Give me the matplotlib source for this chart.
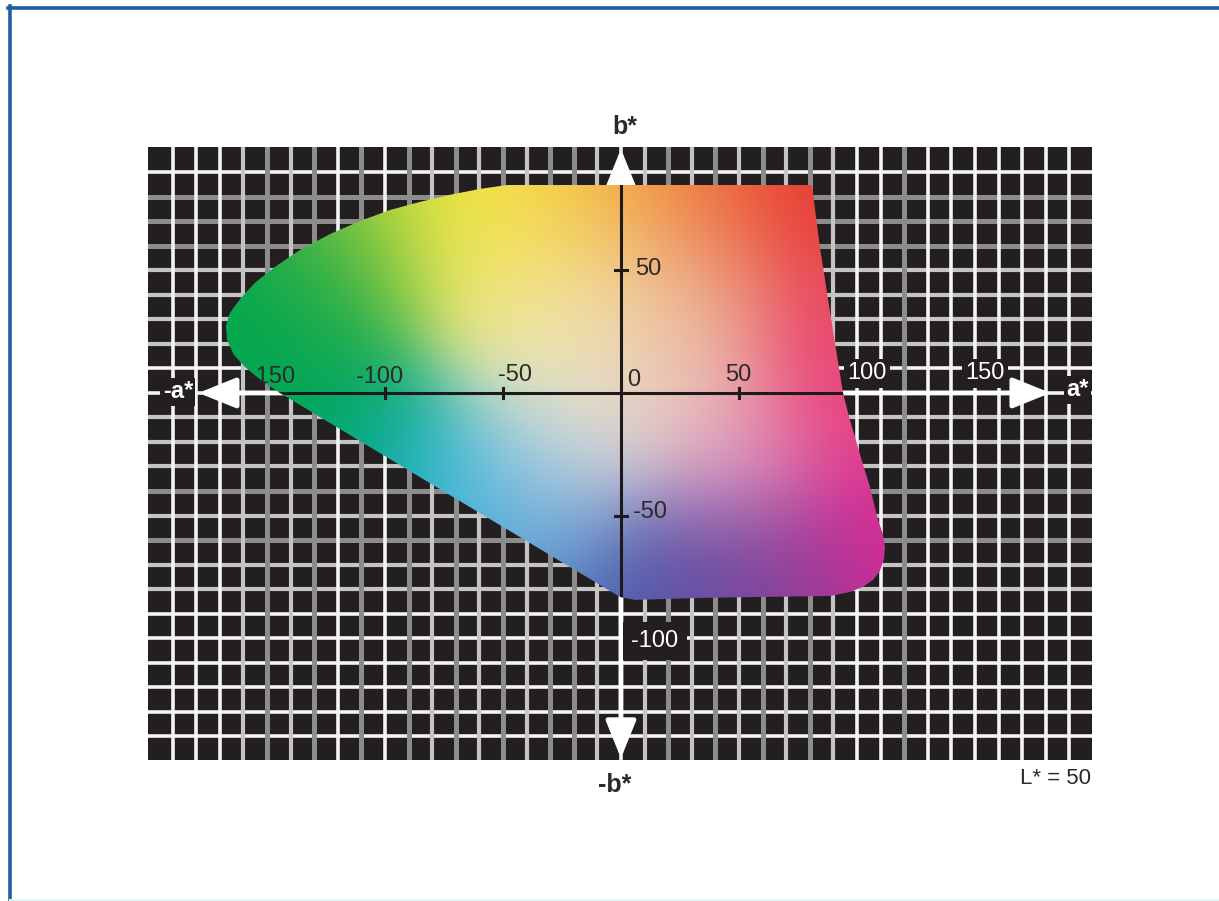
import numpy as np
import matplotlib
matplotlib.use('Agg')
import matplotlib.pyplot as plt
from matplotlib.patches import Polygon
from matplotlib.lines import Line2D

plt.rcParams['font.family'] = ['Liberation Sans Narrow', 'Liberation Sans', 'DejaVu Sans']

# ---- data: gamut boundary of the a*b* plane at L* = 50 ----
gamut_a = [80.9, 84.3, 89.8, 94.1, 97.0, 102.0, 105.5, 108.9, 111.0, 111.9, 111.4, 109.7,
           106.8, 102.5, 97.0, 88.6, 33.5, 5.9, -0.4, -79.7, -144.5, -152.1, -158.9,
           -164.0, -166.9, -167.4, -165.7, -161.4, -155.1, -146.6, -136.0, -123.3,
           -110.6, -97.9, -85.2, -72.5, -59.7, -48.3]
gamut_b = [84.8, 59.5, 25.7, 0.0, -11.0, -27.3, -38.3, -51.8, -57.5, -63.2, -68.1, -72.6,
           -76.3, -79.1, -81.2, -82.8, -83.6, -84.4, -83.2, -37.5, 0.0, 4.9, 10.2,
           15.5, 21.6, 27.3, 32.6, 38.3, 44.9, 51.4, 58.3, 64.8,
           70.1, 74.6, 77.9, 80.8, 83.2, 84.8]

a_tick_marks = [-100, -50, 50]
b_tick_marks = [50, -50]
a_labels = ['-150', '-100', '-50', '0', '50', '100', '150']
b_labels = ['50', '-50', '-100']

# colour anchors for the gamut fill (a, b, R, G, B)
anchor_a = [-10, -50, -25, 0, 40, 80, 90, 96, 110, 70, 35, 5, -40, -75, -110, -150, -160,
            -115, -85, -50, -25, 35, 45, -35, 20, -5, -130]
anchor_b = [-8, 84, 82, 85, 82, 80, 30, 0, -62, -80, -80, -80, -60, -42, -20, 8, 30,
            64, 76, 50, 30, 40, -25, -30, 15, 35, 45]
anchor_rgb = [(230, 228, 230), (248, 236, 50), (246, 205, 65), (241, 150, 62), (238, 108, 58),
              (230, 45, 45), (234, 72, 95), (233, 62, 135), (222, 40, 150), (135, 60, 150),
              (105, 72, 160), (68, 92, 172), (80, 155, 215), (40, 185, 230), (0, 168, 118),
              (0, 165, 80), (0, 168, 78), (110, 190, 60), (236, 232, 55), (242, 232, 130),
              (242, 236, 170), (236, 158, 128), (230, 160, 200), (190, 214, 224),
              (236, 200, 180), (240, 220, 170), (20, 168, 75)]

# ---- grid line colours ----
W, L, G = '#f4f4f4', '#c4c4c4', '#8c8c8c'
v_vals = list(range(-190, 200, 10))
v_cols = [W, W, W, L, G, L, G, W, G, W, G, L, G, L, G, L, G, G, L, W,
          L, G, L, G, L, G, L, G, L, W, W, G, W, W, W, W, W, W, W]
h_vals = list(range(90, -150, -10))
h_cols = [W, G, G, G, L, L, L, L, W, W, L, L, L, G, L, G, L, L, W, W, W, W, W, W]
lw_map = {W: 2.6, L: 3.0, G: 3.6}

fig = plt.figure(figsize=(12.19, 9.01), dpi=100)
fig.patch.set_facecolor('white')
ax = fig.add_axes([148 / 1219, 141 / 901, 944 / 1219, 613 / 901])
ax.set_facecolor('#231f20')
ax.set_xlim(-200.4, 199.6)
ax.set_ylim(-149.7, 100.3)
ax.set_xticks([])
ax.set_yticks([])
for s in ax.spines.values():
    s.set_visible(False)

for v, c in zip(h_vals, h_cols):
    ax.axhline(v, color=c, lw=lw_map[c], zorder=1)
for v, c in zip(v_vals, v_cols):
    ax.axvline(v, color=c, lw=lw_map[c], zorder=1)

# white axes with arrows
akw = dict(arrowstyle='-|>,head_length=0.42,head_width=0.17', color='white', lw=3.5,
           mutation_scale=55, shrinkA=0, shrinkB=0)
ax.annotate('', xy=(-179, 0), xytext=(0, 0), arrowprops=akw, zorder=2, annotation_clip=False)
ax.annotate('', xy=(182, 0), xytext=(0, 0), arrowprops=akw, zorder=2, annotation_clip=False)
ax.annotate('', xy=(0, 99.5), xytext=(0, 0), arrowprops=akw, zorder=2, annotation_clip=False)
ax.annotate('', xy=(0, -149), xytext=(0, 0), arrowprops=akw, zorder=2, annotation_clip=False)

# gamut fill
poly = Polygon(np.column_stack([gamut_a, gamut_b]), closed=True, facecolor='none',
               edgecolor='none', transform=ax.transData)
ax.add_patch(poly)
ga = np.linspace(-170, 115, 570)
gb = np.linspace(-87, 88, 350)
AA, BB = np.meshgrid(ga, gb)
an_a = np.array(anchor_a, float)
an_b = np.array(anchor_b, float)
cols = np.array(anchor_rgb, float) / 255.0
d2 = (AA[..., None] - an_a) ** 2 + (BB[..., None] - an_b) ** 2
wts = np.exp(-d2 / (2 * 27.0 ** 2)) + 1e-12
wts /= wts.sum(axis=-1, keepdims=True)
img = np.clip(np.einsum('ijk,kl->ijl', wts, cols), 0, 1)
im = ax.imshow(img, extent=(ga[0], ga[-1], gb[0], gb[-1]), origin='lower',
               interpolation='bilinear', aspect='auto', zorder=3)
im.set_clip_path(poly)

# black axes inside the gamut
l1, = ax.plot([-175, 120], [0, 0], color='#1c1a1b', lw=2.2, zorder=4)
l2, = ax.plot([0, 0], [-90, 90], color='#1c1a1b', lw=2.2, zorder=4)
l1.set_clip_path(poly)
l2.set_clip_path(poly)
for t in a_tick_marks:
    ax.plot([t, t], [-2.2, 2.2], color='#1c1a1b', lw=2.2, zorder=4)
for t in b_tick_marks:
    ax.plot([-2.6, 2.6], [t, t], color='#1c1a1b', lw=2.2, zorder=4)

fs = 17
dark = '#2a2a2a'
a_pos = [(-147.9, 6.5), (-102.1, 6.5), (-44.9, 7.2), (5.5, 5.3), (49.6, 7.5), (104.2, 8.0), (154.2, 8.0)]
for lab, (x, y) in zip(a_labels, a_pos):
    if lab in ('100', '150'):
        ax.text(x, y, lab, color='white', fontsize=fs, ha='center', va='center', zorder=6,
                bbox=dict(boxstyle='square,pad=0.15', fc='#231f20', ec='none'))
    else:
        ax.text(x, y, lab, color=dark, fontsize=fs, ha='center', va='center', zorder=6)
b_pos = [(11.4, 50.6), (12.3, -48.5), (14.4, -101.1)]
for lab, (x, y) in zip(b_labels, b_pos):
    if lab == '-100':
        ax.text(x, y, lab, color='white', fontsize=fs, ha='center', va='center', zorder=6,
                bbox=dict(boxstyle='square,pad=0.35', fc='#231f20', ec='none'))
    else:
        ax.text(x, y, lab, color=dark, fontsize=fs, ha='center', va='center', zorder=6)

# axis names
ax.text(-187.7, 0.4, '-a*', color='white', fontsize=fs, fontweight='bold', ha='center', va='center',
        zorder=6, bbox=dict(boxstyle='square,pad=0.1', fc='#231f20', ec='none'))
ax.text(193.6, 1.2, 'a*', color='white', fontsize=fs, fontweight='bold', ha='center', va='center',
        zorder=6, bbox=dict(boxstyle='square,pad=0.1', fc='#231f20', ec='none'))
ax.text(1.5, 108.5, 'b*', color=dark, fontsize=fs + 1, fontweight='bold', ha='center', va='center',
        clip_on=False)
ax.text(-2.5, -159.9, '-b*', color=dark, fontsize=fs + 1, fontweight='bold', ha='center', va='center',
        clip_on=False)
ax.text(184.3, -157.4, 'L* = 50', color=dark, fontsize=fs - 1, ha='center', va='center',
        clip_on=False)

# frame of the figure
fig.add_artist(Line2D([8 / 1219, 1], [1 - 7.5 / 901] * 2, color='#1f5f9f', lw=2.6,
                      transform=fig.transFigure))
fig.add_artist(Line2D([9.5 / 1219] * 2, [0, 1 - 6 / 901], color='#1f5f9f', lw=2.6,
                      transform=fig.transFigure))
fig.add_artist(Line2D([10 / 1219, 1], [1.5 / 901] * 2, color='#dff6fb', lw=1.5,
                      transform=fig.transFigure))

fig.savefig('out.png', dpi=100, facecolor='white')
